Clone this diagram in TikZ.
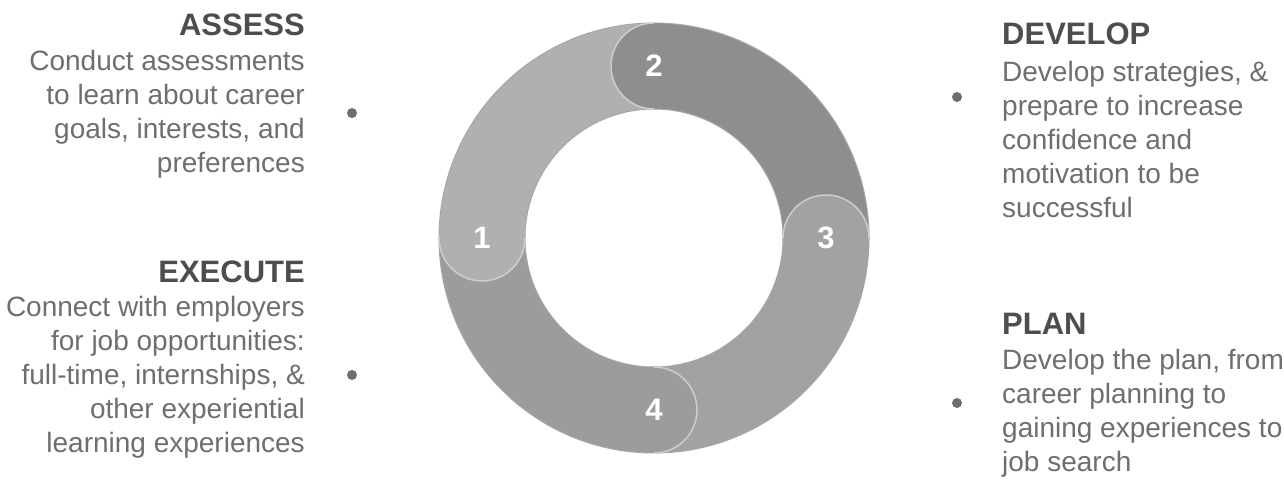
\documentclass[tikz,border=0pt]{standalone}
\usepackage{fontspec}
\setmainfont{Liberation Sans}
\usetikzlibrary{calc}
\definecolor{segA}{HTML}{B0B0B0}
\definecolor{segB}{HTML}{8E8E8E}
\definecolor{segC}{HTML}{A2A2A2}
\definecolor{segD}{HTML}{9C9C9C}
\definecolor{rim}{HTML}{CDCDCD}
\definecolor{head}{HTML}{4D4D4D}
\definecolor{body}{HTML}{6E6E6E}

\begin{document}
\begin{tikzpicture}[x=1pt,y=1pt,
  seg/.style={line width=86pt},
  rimline/.style={draw=rim,line width=1.5pt},
  num/.style={text=white,font=\fontsize{31}{31}\selectfont\bfseries},
  hd/.style={text=head,font=\fontsize{31}{34}\selectfont\bfseries,inner sep=0},
  txt/.style={text=body,font=\fontsize{28}{34}\selectfont,inner sep=0},
  dot/.style={circle,fill=body,minimum size=10pt,inner sep=0}]
\useasboundingbox (0,0) rectangle (1284,479);
\coordinate (c) at (654,241);
% ring bodies
\draw[seg,segA] (c) ++(180:172) arc[start angle=180,end angle=90,radius=172];
\draw[seg,segB] (c) ++(90:172) arc[start angle=90,end angle=0,radius=172];
\draw[seg,segC] (c) ++(0:172) arc[start angle=0,end angle=-90,radius=172];
\draw[seg,segD] (c) ++(270:172) arc[start angle=270,end angle=180,radius=172];
\draw[gray!70,line width=1pt] (c) circle[radius=215] (c) circle[radius=129];
% rounded heads
\foreach \a/\col in {180/segA,90/segB,0/segC,270/segD}{
  \fill[\col] ($(c)+(\a:172)$) circle[radius=43];
  \draw[rimline] ($(c)+(\a:172)$) ++(\a:43) arc[start angle=\a,end angle=\a+180,radius=43];
}
\node[num] (n1) at ($(c)+(180:172)$) {1};
\node[num] (n2) at ($(c)+(90:172)$) {2};
\node[num] (n3) at ($(c)+(0:172)$) {3};
\node[num] (n4) at ($(c)+(270:172)$) {4};
% bullets
\node[dot] (d1) at (352,366) {};
\node[dot] (d2) at (352,104) {};
\node[dot] (d3) at (957,382) {};
\node[dot] (d4) at (957,76) {};
% left texts (base = last line)
\node[hd,anchor=base east] (assess) at (305,443) {ASSESS};
\node[txt,anchor=base east,align=right] (assesst) at (305,306)
  {Conduct assessments\\to learn about career\\goals, interests, and\\preferences};
\node[hd,anchor=base east] (execute) at (305,196) {EXECUTE};
\node[txt,anchor=base east,align=right] (executet) at (305,27)
  {Connect with employers\\for job opportunities:\\full-time, internships, \&\\other experiential\\learning experiences};
% right texts
\node[hd,anchor=base west] (develop) at (1002,434) {DEVELOP};
\node[txt,anchor=base west,align=left] (developt) at (1002,261)
  {Develop strategies, \&\\prepare to increase\\confidence and\\motivation to be\\successful};
\node[hd,anchor=base west] (plan) at (1002,144) {PLAN};
\node[txt,anchor=base west,align=left] (plant) at (1002,8)
  {Develop the plan, from\\career planning to\\gaining experiences to\\job search};
\end{tikzpicture}
\end{document}
